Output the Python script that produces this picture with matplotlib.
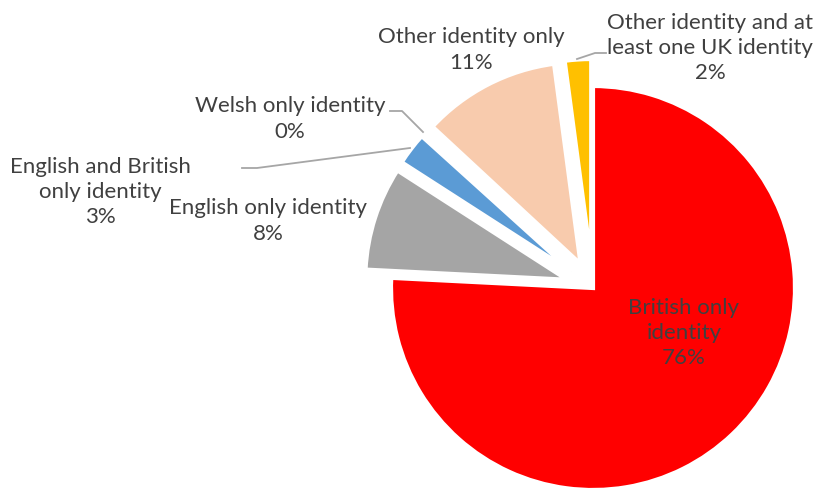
import matplotlib
matplotlib.use("Agg")
import matplotlib.pyplot as plt

categories = [
    "British only identity",
    "English only identity",
    "English and British only identity",
    "Welsh only identity",
    "Other identity only",
    "Other identity and at least one UK identity",
]
shares = [75.8, 8.3, 2.6, 0.2, 11.0, 2.1]
pct_labels = ["76%", "8%", "3%", "0%", "11%", "2%"]
colors = ["#FF0000", "#A5A5A5", "#5B9BD5", "#70AD47", "#F8CBAD", "#FFC000"]

W, H = 815, 489
fig = plt.figure(figsize=(W / 100, H / 100), dpi=100)
ax = fig.add_axes([0, 0, 1, 1])

radius = 202
center = (593, H - 289)
# offsets in data units (pixels here); the large slice stays in place
explode = [0, 27, 27, 27, 27, 27]

ax.pie(shares, colors=colors, startangle=90, counterclock=False,
       radius=radius, center=center, explode=explode,
       wedgeprops=dict(edgecolor="white", linewidth=3))
ax.set_xlim(0, W)
ax.set_ylim(0, H)
ax.set_aspect("equal")
ax.axis("off")

txt = dict(fontsize=16, color="#404040", family="Lato",
           ha="center", va="center", linespacing=1.33)

label_text = [
    "British only\nidentity\n76%",
    "English only identity\n8%",
    "English and British\nonly identity\n3%",
    "Welsh only identity\n0%",
    "Other identity only\n11%",
    "Other identity and at\nleast one UK identity\n2%",
]
label_pos = [(684, 333), (268, 221), (100, 192), (290, 119), (471, 50), (710, 48)]
for t, (x, y) in zip(label_text, label_pos):
    ax.text(x, H - y, t, **txt)

# leader lines for the small slices
leader = dict(color="#A6A6A6", linewidth=1.3)
ax.plot([577, 595, 606], [H - 60, H - 54, H - 54], **leader)
ax.plot([390, 402, 423], [H - 112, H - 112, H - 133], **leader)
ax.plot([242, 257, 410], [H - 169, H - 169, H - 149], **leader)

fig.savefig("out.png", dpi=100)
